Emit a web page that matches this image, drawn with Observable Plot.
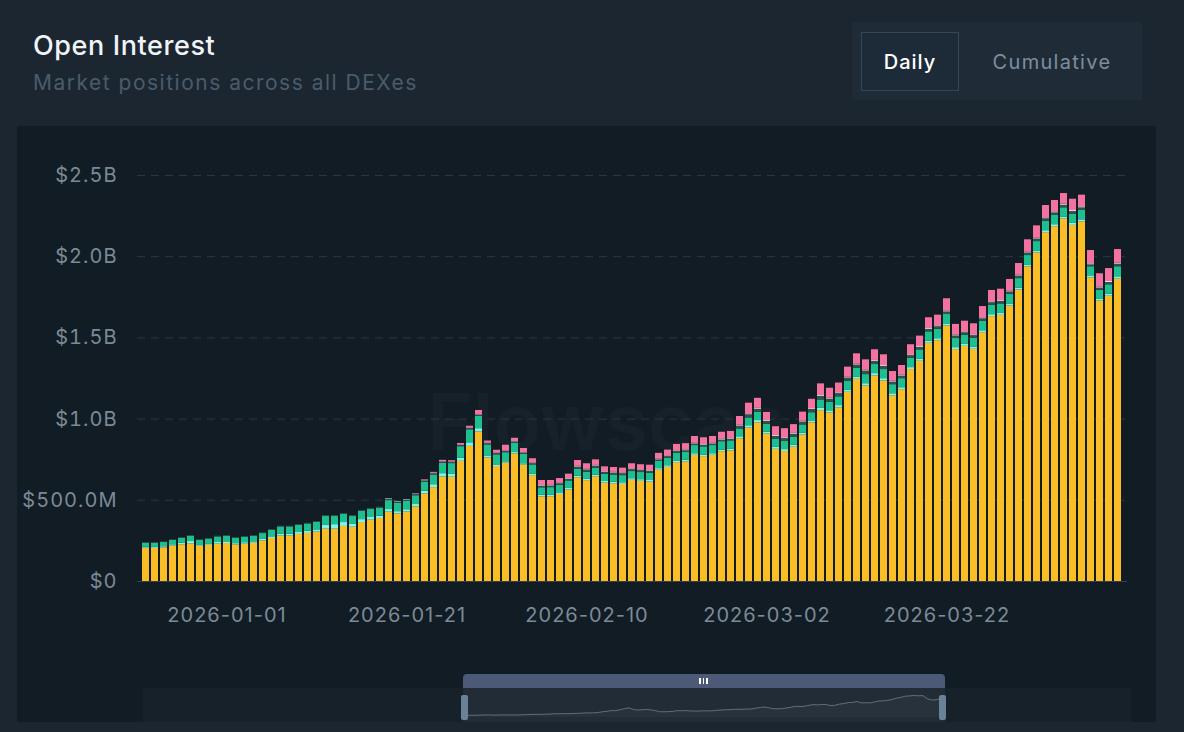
<!DOCTYPE html>
<html><head><meta charset="utf-8">
<script src="https://cdn.jsdelivr.net/npm/d3@7"></script>
<script src="https://cdn.jsdelivr.net/npm/@observablehq/plot@0.6"></script>
<style>
html,body{margin:0;padding:0;background:#1b2631;width:1184px;height:732px;overflow:hidden;font-family:Inter,"DejaVu Sans",sans-serif;}
#title{position:absolute;left:33px;top:29px;font-size:27px;color:#f1f4f7;font-weight:500;letter-spacing:0.6px}
#subtitle{position:absolute;left:33px;top:70px;font-size:21px;color:#4a5c6a;letter-spacing:1.5px}
#toggle{position:absolute;left:852px;top:22px;width:290px;height:78px;background:#1f2b37;border-radius:3px;}
#daily{position:absolute;left:9px;top:10px;width:98px;height:59px;background:#1d2b39;border:1px solid #34475a;box-sizing:border-box;color:#fff;font-size:20px;display:flex;align-items:center;justify-content:center;font-weight:500;letter-spacing:1px}
#cum{position:absolute;left:118px;top:10px;width:164px;height:59px;color:#7f8e9b;font-size:20px;display:flex;align-items:center;justify-content:center;letter-spacing:1.3px}
#panel{position:absolute;left:17px;top:126px;width:1139px;height:596px;background:#121c24;overflow:hidden}
#wm{position:absolute;left:410px;top:248px;font-size:78px;font-weight:600;color:rgba(255,255,255,0.025);white-space:nowrap}
#chart{position:absolute;left:0;top:0}
#chart text{letter-spacing:1px}
#sliderbg{position:absolute;left:126px;top:562px;width:988px;height:34px;background:#16212a}
#winbar{position:absolute;left:446px;top:548px;width:482px;height:14px;background:#4c5a78;border-radius:4px 4px 0 0}
#winbody{position:absolute;left:446px;top:562px;width:482px;height:34px;background:rgba(140,160,180,0.09)}
.grip{position:absolute;top:4px;width:1.5px;height:6px;background:#fff}
.handle{position:absolute;top:569px;width:7px;height:25px;background:#6a8298;border-radius:2px}
#mini{position:absolute;left:446px;top:564px}
</style></head>
<body>
<div id="title">Open Interest</div>
<div id="subtitle">Market positions across all DEXes</div>
<div id="toggle"><div id="daily">Daily</div><div id="cum">Cumulative</div></div>
<div id="panel">
  <div id="wm">Flowscan</div>
  <div id="chart"></div>
  <div id="sliderbg"></div>
  <div id="winbody"></div>
  <div id="mini"></div>
  <div id="winbar"><div class="grip" style="left:236px"></div><div class="grip" style="left:239.5px"></div><div class="grip" style="left:243px"></div></div>
  <div class="handle" style="left:444px"></div>
  <div class="handle" style="left:922px"></div>
</div>
<script>
const startDate = "2025-12-23";
const endDate = "2026-04-10";
const xTicks = ["2026-01-01","2026-01-21","2026-02-10","2026-03-02","2026-03-22"];
const yTicks = [0,500,1000,1500,2000,2500];
const yTickLabels = ["$0","$500.0M","$1.0B","$1.5B","$2.0B","$2.5B"];

const seriesNames = ["DEX A","DEX B","DEX C","DEX D","DEX E","DEX F"];
const seriesColors = ["#fbbd25","#7ef5e8","#1ebf8e","#33504c","#f3f4f6","#f3729f"];

// values in $M, bottom to top
const dexA = [205,204,207,218,226,232,217,223,230,234,
225,230,235,250,265,280,280,290,296,304,
322,322,339,334,363,378,388,427,416,428,
460,540,578,644,642,740,832,921,761,708,
729,786,717,652,521,522,536,563,639,621,
645,606,602,598,623,617,612,685,703,732,
737,777,769,777,799,804,879,945,977,908,
814,800,827,902,977,1052,1037,1069,1165,1245,
1204,1266,1235,1144,1181,1305,1356,1467,1483,1574,
1428,1448,1430,1532,1631,1639,1697,1795,1937,2023,
2148,2185,2232,2193,2215,1870,1727,1757,1862];
const dexB = [6,6,7,8,10,14,8,8,10,10,
8,9,9,9,10,12,12,12,13,14,
26,28,24,20,18,16,14,16,14,14,
14,16,18,20,20,20,22,20,12,10,
8,8,8,8,10,10,10,10,10,10,
10,10,10,10,10,10,10,10,10,10,
10,10,10,10,10,10,12,14,14,12,
12,12,12,12,12,14,14,14,14,14,
14,14,14,12,12,12,12,12,12,12,
12,12,12,12,12,12,12,12,12,12,
12,12,12,12,12,12,10,12,14];
const dexC = [25,26,26,27,30,32,28,30,34,34,
33,33,34,36,40,44,44,44,45,46,
52,50,50,46,50,50,50,55,52,52,
54,56,60,64,64,70,80,76,68,62,
56,58,58,58,46,46,46,46,42,42,
42,44,44,44,44,44,44,44,46,48,
48,50,50,50,52,52,48,48,50,48,
50,50,50,50,50,52,52,54,54,54,
56,56,56,56,56,58,58,58,58,58,
56,56,56,58,58,58,58,58,58,58,
58,57,57,57,58,56,56,58,62];
const dexD = [4,4,4,4,5,5,4,4,5,5,
5,5,5,5,5,5,5,5,5,5,
6,6,6,6,6,6,6,8,8,8,
8,8,8,8,8,8,8,8,8,8,
8,8,8,8,10,10,10,10,14,14,
14,12,12,12,12,12,12,10,10,10,
10,10,10,10,10,10,18,20,20,18,
18,18,18,18,20,22,20,20,20,20,
22,20,20,16,16,16,16,16,16,16,
16,16,16,16,16,16,16,16,16,16,
16,16,16,16,16,12,14,14,16];
const dexE = [0,0,0,0,0,0,0,0,0,0,
0,0,0,0,0,0,0,0,0,0,
0,0,0,0,0,0,0,3,3,3,
2,2,2,2,2,2,2,2,2,2,
2,2,2,2,4,4,4,4,4,4,
4,4,4,4,4,4,4,4,4,4,
4,4,4,4,4,4,5,5,5,5,
5,5,5,5,5,5,5,5,5,5,
5,5,5,5,5,5,5,5,5,5,
5,5,5,5,5,5,5,5,5,5,
5,6,6,6,6,6,6,6,6];
const dexF = [0,0,0,0,0,0,0,0,0,0,
0,0,0,0,0,0,0,0,0,0,
0,0,0,0,0,0,0,0,0,0,
2,4,6,8,8,10,12,26,14,18,
36,20,26,28,31,30,28,28,36,34,
34,30,30,30,32,32,34,36,36,40,
40,42,42,42,44,44,54,66,62,50,
54,56,54,56,58,72,62,60,62,64,
64,66,66,60,60,62,64,66,66,76,
66,66,68,70,70,70,72,72,76,76,
76,70,66,70,72,82,82,80,84];

const seriesValues = [dexA,dexB,dexC,dexD,dexE,dexF];
const fmtDay = d3.utcFormat("%Y-%m-%d");
const dates = d3.utcDay.range(new Date(startDate+"T00:00:00Z"), d3.utcDay.offset(new Date(endDate+"T00:00:00Z"),1)).map(fmtDay);

const rows = [];
seriesNames.forEach((s,k) => {
  dates.forEach((d,i) => rows.push({date:d, series:s, value:seriesValues[k][i]}));
});
const totals = dates.map((d,i) => ({i, total: d3.sum(seriesValues, a => a[i])}));

const chart = Plot.plot({
  width: 1139, height: 515,
  marginLeft: 120, marginRight: 29, marginTop: 49, marginBottom: 60,
  style: {background: "transparent", color: "#7b8a97", fontSize: "20px", fontFamily: "Inter, 'DejaVu Sans', sans-serif"},
  x: {type: "band", domain: dates, padding: 0.22, ticks: xTicks, tickSize: 0, tickPadding: 26, label: null},
  y: {domain: [0, 2500], ticks: yTicks, tickFormat: (v) => yTickLabels[yTicks.indexOf(v)], tickSize: 0, tickPadding: 20, label: null},
  color: {domain: seriesNames, range: seriesColors},
  marks: [
    Plot.ruleY(yTicks.slice(1), {stroke: "#2a3741", strokeDasharray: "8,6", strokeWidth: 1}),
    Plot.barY(rows, {x: "date", y: "value", fill: "series", order: seriesNames}),
    Plot.ruleY([0], {stroke: "#34424d", strokeWidth: 1})
  ]
});
document.getElementById("chart").appendChild(chart);

const mini = Plot.plot({
  width: 482, height: 30,
  marginLeft: 3, marginRight: 5, marginTop: 5, marginBottom: 3,
  style: {background: "transparent"},
  x: {domain: [0, dates.length - 1], axis: null},
  y: {domain: [0, d3.max(totals, d => d.total)], axis: null},
  marks: [
    Plot.areaY(totals, {x: "i", y: "total", fill: "rgba(255,255,255,0.03)"}),
    Plot.lineY(totals, {x: "i", y: "total", stroke: "#5f6e78", strokeWidth: 1})
  ]
});
document.getElementById("mini").appendChild(mini);
</script>
</body></html>
